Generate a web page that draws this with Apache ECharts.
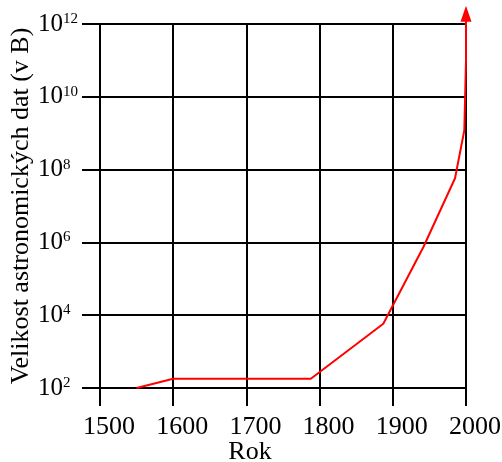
<!DOCTYPE html>
<html>
<head>
<meta charset="utf-8">
<script src="https://cdn.jsdelivr.net/npm/echarts@6/dist/echarts.min.js"></script>
<style>
  html, body { margin: 0; padding: 0; background: #fff; }
  #chart { width: 502px; height: 462px; }
</style>
</head>
<body>
<div id="chart"></div>
<script>
	var years = [1550, 1600, 1788, 1887, 1942, 1985, 1997.7, 2000, 2000];
	var sizes = [1e2, 1.8e2, 1.8e2, 5.8e3, 7.6e5, 5.8e7, 1.2e9, 1e11, 1.9e12];
	var yearTicks = [1500, 1600, 1700, 1800, 1900, 2000];

	var lineData = [];
	for(var i = 0;i < years.length;i++){
		lineData.push([years[i], sizes[i]]);
	}
	//posledni bod nese sipku
	lineData[lineData.length - 1] = {
		value : [years[years.length - 1], sizes[sizes.length - 1]],
		symbol : 'triangle',
		symbolSize : [11, 16]
	};

	var font = 'Liberation Serif';
	var black = '#000';

	var chart = echarts.init(document.getElementById('chart'));
	var option = {
		animation : false,
		grid : {
			left : 100,
			right : 36,
			top : 24,
			bottom : 74,
			containLabel : false,
			outerBoundsMode : 'none'
		},
		xAxis : {
			type : 'value',
			min : yearTicks[0],
			max : yearTicks[yearTicks.length - 1],
			interval : 100,
			name : 'Rok',
			nameLocation : 'middle',
			nameGap : 51,
			nameMoveOverlap : false,
			nameTextStyle : {
				fontFamily : font,
				fontSize : 26,
				color : black,
				padding : [0, 66, 0, 0]
			},
			axisLine : { lineStyle : { color : black, width : 2 } },
			axisTick : { length : 18, lineStyle : { color : black, width : 2 } },
			axisLabel : {
				margin : 26,
				fontFamily : font,
				fontSize : 26,
				color : black,
				padding : [0, 0, 0, 18],
				formatter : function(v){ return String(v); }
			},
			splitLine : { show : true, lineStyle : { color : black, width : 2 } }
		},
		yAxis : {
			type : 'log',
			logBase : 10,
			min : 1e2,
			max : 1e12,
			interval : 2,
			name : 'Velikost astronomických dat (v B)',
			nameLocation : 'middle',
			nameGap : 66,
			nameMoveOverlap : false,
			nameTextStyle : {
				fontFamily : font,
				fontSize : 26,
				color : black
			},
			axisLine : { show : true, lineStyle : { color : black, width : 2 } },
			axisTick : { show : true, length : 18, lineStyle : { color : black, width : 2 } },
			axisLabel : {
				margin : 62,
				align : 'left',
				color : black,
				formatter : function(v){
					var e = Math.round(Math.log(v) / Math.LN10);
					return '{b|10}{e|' + e + '}';
				},
				rich : {
					b : { fontFamily : font, fontSize : 25, lineHeight : 25, color : black },
					e : { fontFamily : font, fontSize : 15, lineHeight : 15, verticalAlign : 'top', color : black }
				}
			},
			splitLine : { show : true, lineStyle : { color : black, width : 2 } }
		},
		series : [{
			type : 'line',
			data : lineData,
			clip : false,
			symbol : 'none',
			showSymbol : true,
			itemStyle : { color : '#ff0000' },
			lineStyle : { color : '#ff0000', width : 2 },
			z : 5
		}]
	};
	chart.setOption(option);
</script>
</body>
</html>
